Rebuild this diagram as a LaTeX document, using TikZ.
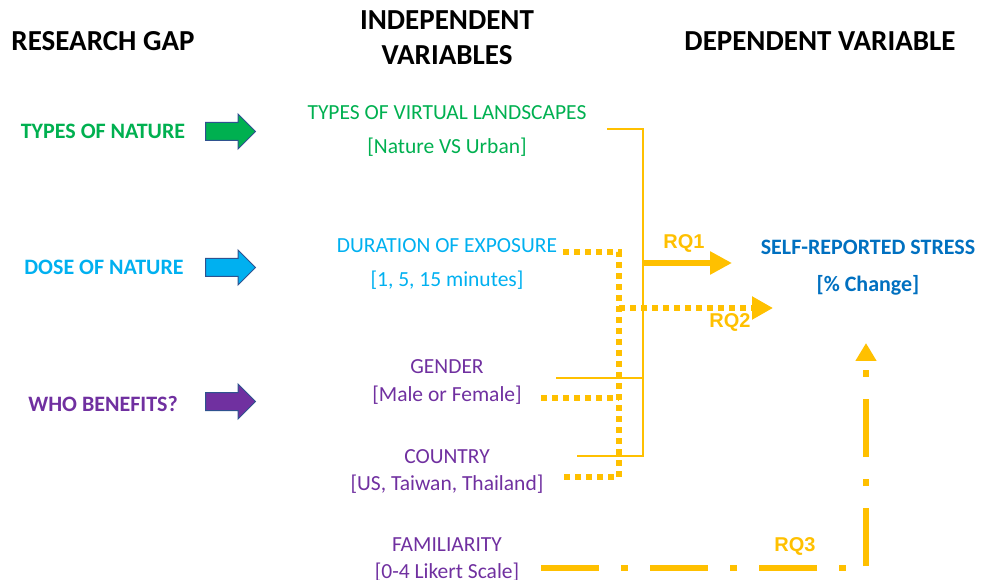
\documentclass[tikz,border=0pt]{standalone}
\usepackage{fontspec}
\setmainfont{Carlito}
\newfontfamily\rqfont{Liberation Sans}
\usetikzlibrary{arrows.meta,shapes.arrows,positioning}

\definecolor{natgreen}{RGB}{0,176,80}
\definecolor{dosecyan}{RGB}{0,176,240}
\definecolor{whopurple}{RGB}{112,48,160}
\definecolor{rqgold}{RGB}{255,192,0}
\definecolor{stressblue}{RGB}{0,112,192}
\definecolor{arrowedge}{RGB}{47,82,143}

\tikzstyle{heading} = [font=\bfseries\fontsize{29}{35}\selectfont, align=center]
\tikzstyle{gap} = [font=\bfseries\fontsize{22}{26}\selectfont]
\tikzstyle{var} = [font=\fontsize{21.5}{26}\selectfont]
\tikzstyle{fat} = [single arrow, draw=arrowedge, line width=1pt, minimum height=50pt,
    single arrow head extend=8.5pt, inner xsep=0pt, inner ysep=8.5pt]
\tikzstyle{link} = [rqgold, line width=2.5pt]
\tikzstyle{dots} = [rqgold, line width=5.5pt, dash pattern=on 6pt off 5pt]
\tikzstyle{dashdot} = [rqgold, line width=6pt, dash pattern=on 58pt off 22pt on 7pt off 22pt]
\tikzstyle{rq} = [rqgold, font=\rqfont\bfseries\fontsize{20}{24}\selectfont]

\begin{document}
\begin{tikzpicture}[x=1pt, y=-1pt, node distance=34pt]
    \useasboundingbox (0,0) rectangle (989,580);

    % column headings
    \node (gaphead) [heading] at (103,41) {RESEARCH GAP};
    \node (ivhead) [heading] at (447,38) {INDEPENDENT\\VARIABLES};
    \node (dvhead) [heading] at (820,41) {DEPENDENT VARIABLE};

    % research gaps
    \node (nature) [gap, text=natgreen] at (103,131) {TYPES OF NATURE};
    \node (dose) [gap, text=dosecyan] at (104,267) {DOSE OF NATURE};
    \node (who) [gap, text=whopurple] at (103,404) {WHO BENEFITS?};
    \node (naturearr) [fat, fill=natgreen] at (226,131.5) {};
    \node (dosearr) [fat, fill=dosecyan] at (226,267.5) {};
    \node (whoarr) [fat, fill=whopurple] at (226,401.5) {};

    % independent variables
    \node (land) [var, text=natgreen] at (447,113) {TYPES OF VIRTUAL LANDSCAPES};
    \node (landb) [var, text=natgreen, below of=land] {[Nature VS Urban]};
    \node (dur) [var, text=dosecyan] at (447,246) {DURATION OF EXPOSURE};
    \node (durb) [var, text=dosecyan, below of=dur] {[1, 5, 15 minutes]};
    \node (gender) [var, text=whopurple] at (447,367) {GENDER};
    \node (genderb) [var, text=whopurple, below of=gender, node distance=28pt] {[Male or Female]};
    \node (country) [var, text=whopurple] at (447,457) {COUNTRY};
    \node (countryb) [var, text=whopurple, below of=country, node distance=27pt] {[US, Taiwan, Thailand]};
    \node (famil) [var, text=whopurple] at (447,545) {FAMILIARITY};
    \node (familb) [var, text=whopurple, below of=famil, node distance=27pt] {[0-4 Likert Scale]};

    % dependent variable
    \node (stress) [gap, text=stressblue] at (868,247) {SELF-REPORTED STRESS};
    \node (stressb) [gap, text=stressblue, below of=stress, node distance=38pt] {[\% Change]};

    % line ends
    \coordinate (landend) at (607,129);
    \coordinate (spinetop) at (643,129);
    \coordinate (spinebot) at (643,456);
    \coordinate (spinemid) at (643,263);
    \coordinate (genderend) at (556,378);
    \coordinate (countryend) at (577,456);
    \coordinate (rqone) at (732,263);
    \coordinate (durend) at (563,252);
    \coordinate (dottop) at (619,252);
    \coordinate (dotbot) at (619,477);
    \coordinate (dotmid) at (619,308);
    \coordinate (gendot) at (541,398);
    \coordinate (countrydot) at (560,477);
    \coordinate (rqtwo) at (773,308);
    \coordinate (familend) at (541,568);
    \coordinate (corner) at (866,568);
    \coordinate (rqthree) at (866,343);

    % RQ1: all variables together
    \draw [link] (landend) -- (spinetop) -- (spinebot) -- (countryend);
    \draw [link] (genderend) -- (spinemid |- genderend);
    \draw [rqgold, line width=6pt, -{Triangle[length=22pt,width=22pt]}] (spinemid) -- (rqone);
    \node [rq] at (684,243) {RQ1};

    % RQ2: duration with gender and country
    \draw [dots] (durend) -- (dottop) -- (dotbot) -- (countrydot);
    \draw [dots] (gendot) -- (dotmid |- gendot);
    \draw [dots, -{Triangle[length=21pt,width=22pt]}] (dotmid) -- (rqtwo);
    \node [rq] at (730,322) {RQ2};

    % RQ3: familiarity
    \draw [dashdot, -{Triangle[length=18pt,width=20pt]}] (familend) -- (corner) -- (rqthree);
    \node [rq] at (795,546) {RQ3};
\end{tikzpicture}
\end{document}
